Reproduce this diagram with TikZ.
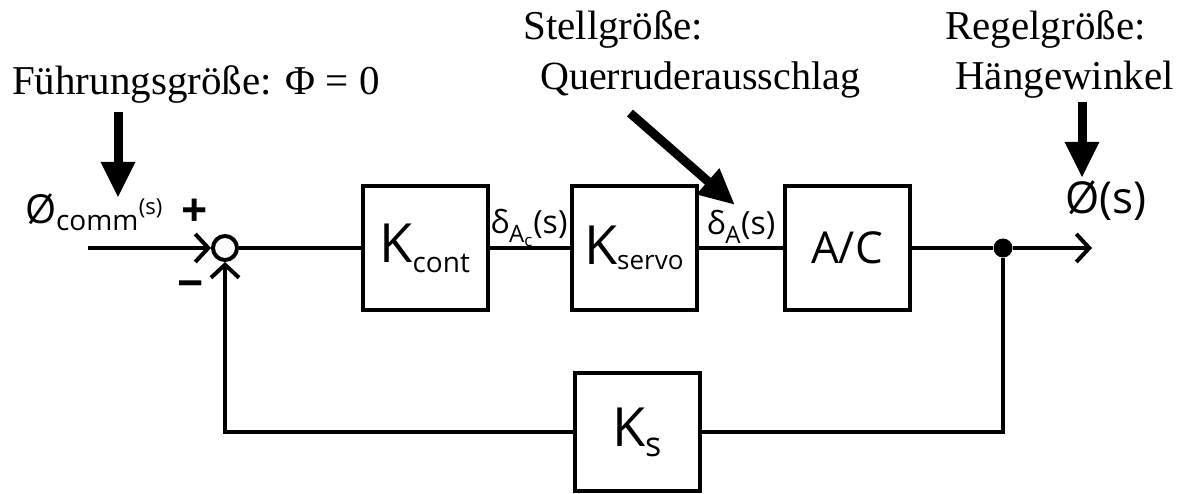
\documentclass[tikz,border=0pt]{standalone}
\usepackage{fontspec}
\setmainfont{Liberation Serif}
\newfontfamily\hand{Open Sans}
\usetikzlibrary{arrows.meta}
\begin{document}
\begin{tikzpicture}[x=1pt,y=-1pt,
  blk/.style={draw,line width=4pt,minimum width=125pt,minimum height=124pt,inner sep=0pt,font=\hand\fontsize{54}{58}\selectfont},
  ln/.style={line width=4pt},
  barb/.style={ln,-{Straight Barb[length=13pt,width=28pt]}},
  callout/.style={line width=9pt,-{Triangle[length=36pt,width=32pt]}},
  lbl/.style={font=\hand\fontsize{32}{34}\selectfont,inner sep=0pt},
  sign/.style={font=\hand\bfseries\fontsize{46}{48}\selectfont,inner sep=0pt},
  note/.style={font=\fontsize{41}{45}\selectfont,inner sep=0pt,anchor=base west}]
\useasboundingbox (0,0) rectangle (1192,494);
% texts
\node[note] (fg) at (12,95) {Führungsgröße: Φ = 0};
\node[note] (sg) at (523,40) {Stellgröße:};
\node[note,font=\fontsize{40}{44}\selectfont] (qa) at (540,90) {Querruderausschlag};
\node[note] (rg) at (945,40) {Regelgröße:};
\node[note] (hw) at (955,90) {Hängewinkel};
% blocks
\node[blk] (kc) at (425,248) {K\textsubscript{\fontsize{28}{30}\selectfont cont}};
\node[blk] (kv) at (634,248) {K\textsubscript{\fontsize{26}{28}\selectfont servo}};
\node[blk,font=\hand\fontsize{44}{48}\selectfont] (ac) at (847,248) {A/C};
\node[blk,minimum height=118pt] (ks) at (637,432) {K\textsubscript{\fontsize{34}{36}\selectfont s}};
\node[draw,circle,line width=4pt,minimum size=24pt,inner sep=0pt] (sum) at (225,248) {};
\node[circle,fill,minimum size=19pt,inner sep=0pt] (dot) at (1003,248) {};
\coordinate (in) at (88,248);
\coordinate (out) at (1092,248);
% connectors
\draw[barb] (in) -- (sum);
\draw[ln] (sum) -- (kc);
\draw[ln] (kc) -- (kv);
\draw[ln] (kv) -- (ac);
\draw[ln] (ac) -- (dot);
\draw[barb] (dot) -- (out);
\draw[ln] (dot) |- (ks.east);
\draw[barb] (ks.west) -| (sum.south);
% signal labels
\node[lbl,font=\hand\fontsize{40}{42}\selectfont] (phic) at (94,212) {Ø\textsubscript{\fontsize{28}{30}\selectfont comm}\textsuperscript{\fontsize{22}{24}\selectfont (s)}};
\node[sign] (plus) at (195,213) {+};
\node[sign] (minus) at (191,290) {−};
\node[lbl] (dac) at (529,228) {δ\textsubscript{\fontsize{24}{26}\selectfont A\textsubscript{c}}(s)};
\node[lbl] (da) at (741,227) {δ\textsubscript{\fontsize{24}{26}\selectfont A}(s)};
\node[lbl,font=\hand\fontsize{44}{46}\selectfont] (phis) at (1106,201) {Ø(s)};
% callout arrows
\coordinate (a1s) at (118,112); \coordinate (a1e) at (118,198);
\coordinate (a2s) at (630,113); \coordinate (a2e) at (735,205);
\coordinate (a3s) at (1082,102); \coordinate (a3e) at (1082,178);
\draw[callout] (a1s) -- (a1e);
\draw[callout] (a2s) -- (a2e);
\draw[callout] (a3s) -- (a3e);
\end{tikzpicture}
\end{document}
